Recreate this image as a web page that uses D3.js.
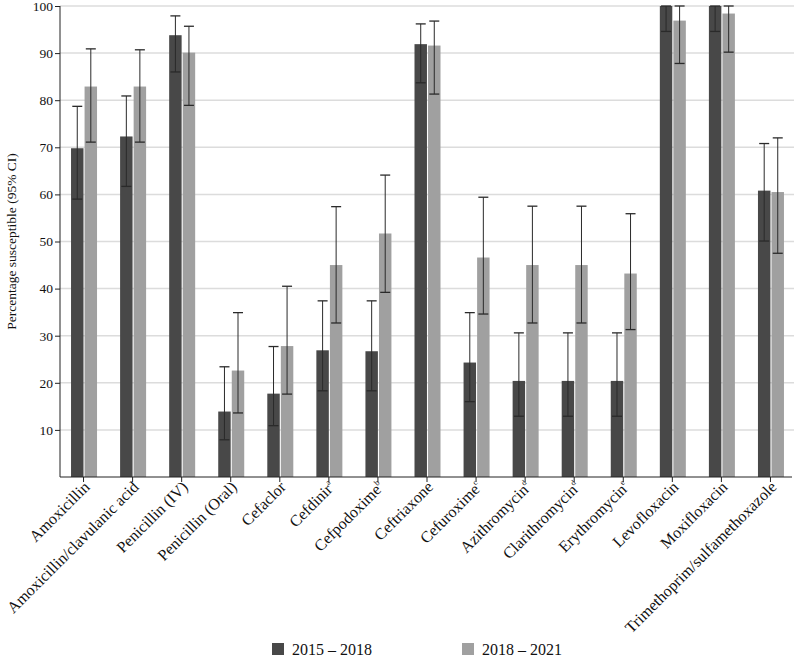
<!DOCTYPE html>
<html><head><meta charset="utf-8">
<script src="https://cdn.jsdelivr.net/npm/d3@7"></script>
<style>
body{margin:0;background:#fff;}
svg{display:block;font-family:"Liberation Serif","DejaVu Serif",serif;}
</style></head>
<body><svg id="chart" width="794" height="658"></svg>
<script>
const categories = ["Amoxicillin","Amoxicillin/clavulanic acid","Penicillin (IV)","Penicillin (Oral)","Cefaclor","Cefdinir","Cefpodoxime","Ceftriaxone","Cefuroxime","Azithromycin","Clarithromycin","Erythromycin","Levofloxacin","Moxifloxacin","Trimethoprim/sulfamethoxazole"];
const superscripts = ["","","","","","a","b","","c","d","d","e","","",""];
const seriesNames = ["2015 – 2018","2018 – 2021"];
const values2015 = [69.8,72.3,93.8,13.9,17.7,26.9,26.7,91.9,24.3,20.4,20.4,20.4,100,100,60.8];
const lower2015  = [59.0,61.7,86.0,7.9,10.9,18.3,18.3,83.7,16.0,12.9,12.9,12.9,94.6,94.6,50.1];
const upper2015  = [78.7,80.9,97.9,23.4,27.7,37.4,37.4,96.2,34.9,30.6,30.6,30.6,100,100,70.8];
const values2021 = [82.9,82.9,90.1,22.6,27.8,45.0,51.7,91.6,46.6,45.0,45.0,43.2,96.9,98.4,60.5];
const lower2021  = [71.1,71.1,78.9,13.6,17.6,32.7,39.2,81.3,34.6,32.7,32.7,31.3,87.8,90.2,47.5];
const upper2021  = [90.9,90.7,95.7,34.9,40.5,57.4,64.1,96.8,59.4,57.5,57.5,55.9,100,100,72.0];
const yTicks = [10,20,30,40,50,60,70,80,90,100];

(function(){
const colors = ["#484848","#a0a0a0"];
const svg = d3.select("#chart");
const mLeft = 60, mRight = 795, mTop = 6, mBottom = 477;

const x = d3.scaleBand().domain(categories).range([mLeft - 1, mRight]).paddingInner(0).paddingOuter(0);
const y = d3.scaleLinear().domain([0,100]).range([mBottom, mTop]);
const x1 = d3.scaleBand().domain([0,1]).range([-12.5, 13.5]).paddingInner(0.08);

// grid
svg.append("g").selectAll("line").data(yTicks).join("line")
  .attr("x1", mLeft).attr("x2", mRight)
  .attr("y1", d => y(d)).attr("y2", d => y(d))
  .attr("stroke", "#dcdcdc").attr("stroke-width", 1.5);

const series = [
  {vals: values2015, lo: lower2015, hi: upper2015},
  {vals: values2021, lo: lower2021, hi: upper2021}
];

series.forEach((s, si) => {
  const g = svg.append("g");
  const c = d => x(d) + x.bandwidth()/2;
  g.selectAll("rect").data(categories).join("rect")
    .attr("x", d => c(d) + x1(si))
    .attr("width", x1.bandwidth())
    .attr("y", (d,i) => y(s.vals[i]))
    .attr("height", (d,i) => mBottom - y(s.vals[i]))
    .attr("fill", colors[si]);
});

series.forEach((s, si) => {
  const g = svg.append("g").attr("stroke", "#2a2a2a").attr("stroke-width", 1);
  const cx = d => x(d) + x.bandwidth()/2 + x1(si) + x1.bandwidth()/2;
  categories.forEach((d,i) => {
    const xc = cx(d);
    g.append("line").attr("x1", xc).attr("x2", xc).attr("y1", y(s.lo[i])).attr("y2", y(s.hi[i]));
    g.append("line").attr("x1", xc-5).attr("x2", xc+5).attr("y1", y(s.hi[i])).attr("y2", y(s.hi[i])).attr("stroke-width",1.3);
    g.append("line").attr("x1", xc-5).attr("x2", xc+5).attr("y1", y(s.lo[i])).attr("y2", y(s.lo[i])).attr("stroke-width",1.3);
  });
});

// y axis
const yAxis = svg.append("g").attr("transform", `translate(${mLeft},0)`)
  .call(d3.axisLeft(y).tickValues(yTicks).tickSize(5).tickSizeOuter(0));
yAxis.select(".domain").attr("stroke", "#222").attr("d", `M0,${mTop}V${mBottom}`);
yAxis.selectAll(".tick line").attr("stroke", "#222");
yAxis.selectAll(".tick text").attr("font-size", 13.5).attr("fill", "#111").attr("font-family", "Liberation Serif").attr("x", -7);

// x axis
const xAxis = svg.append("g").attr("transform", `translate(0,${mBottom})`)
  .call(d3.axisBottom(x).tickSize(5).tickSizeOuter(0).tickFormat(""));
xAxis.select(".domain").attr("stroke", "#222").attr("d", `M${mLeft},0H${mRight-3}`);
xAxis.selectAll(".tick line").attr("stroke", "#222");

const labels = svg.append("g");
categories.forEach((d,i) => {
  const cx = x(d) + x.bandwidth()/2 + 7;
  const t = labels.append("text")
    .attr("transform", `translate(${cx},${mBottom + 11}) rotate(-45)`)
    .attr("text-anchor", "end")
    .attr("font-size", 16).attr("fill", "#111");
  t.append("tspan").text(d);
  if (superscripts[i]) {
    t.append("tspan").attr("font-size", 8).attr("dy", -7).text(superscripts[i]);
  }
});

// y label
svg.append("text")
  .attr("transform", `translate(16,${(mTop+mBottom)/2}) rotate(-90)`)
  .attr("text-anchor", "middle").attr("font-size", 13.5).attr("fill", "#111")
  .text("Percentage susceptible (95% CI)");

// legend
const legX = [272, 462];
seriesNames.forEach((n, i) => {
  svg.append("rect").attr("x", legX[i]).attr("y", 643).attr("width", 12).attr("height", 12).attr("fill", colors[i]);
  svg.append("text").attr("x", legX[i] + 20).attr("y", 655).attr("font-size", 16).attr("fill", "#111").text(n);
});
})();
</script></body></html>
